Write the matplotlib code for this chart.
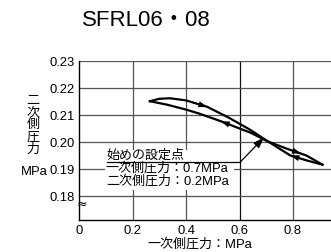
import numpy as np
import matplotlib
matplotlib.use("Agg")
import matplotlib.pyplot as plt
from matplotlib.patches import Rectangle

plt.rcParams['font.family'] = ['Liberation Sans', 'Noto Sans CJK JP', 'DejaVu Sans']

title = "SFRL06・08"
x_label = "一次側圧力：MPa"
y_label = "二\n次\n側\n圧\n力"
y_unit = "MPa"
x_ticks = [0, 0.2, 0.4, 0.6, 0.8]
x_tick_labels = ["0", "0.2", "0.4", "0.6", "0.8"]
y_ticks = [0.18, 0.19, 0.20, 0.21, 0.22, 0.23]
y_tick_labels = ["0.18", "0.19", "0.20", "0.21", "0.22", "0.23"]

# increasing primary pressure branch
up_x = [0.265, 0.30, 0.34, 0.40, 0.48, 0.56, 0.64, 0.708, 0.78, 0.85, 0.91]
up_y = [0.2151, 0.2160, 0.2162, 0.2154, 0.2130, 0.2090, 0.2045, 0.2001, 0.1974, 0.1950, 0.1916]
# decreasing primary pressure branch
dn_x = [0.91, 0.85, 0.79, 0.708, 0.64, 0.60, 0.53, 0.45, 0.40, 0.33, 0.265]
dn_y = [0.1916, 0.1932, 0.1950, 0.2001, 0.2035, 0.2050, 0.2077, 0.2105, 0.2120, 0.2138, 0.2151]

up_arrows = [0.48, 0.83]
dn_arrows = [0.53, 0.79]

set_point = (0.70, 0.20)
note_lines = ["始めの設定点", "一次側圧力：0.7MPa", "二次側圧力：0.2MPa"]

W, H = 331, 253
fig = plt.figure(figsize=(W / 100, H / 100), dpi=100)
ax = fig.add_axes([79 / W, 1 - 221 / H, 1 - 79 / W, (221 - 62) / H])
ax.set_xlim(0, 0.942)
ax.set_ylim(0.1711, 0.23)

for xt in x_ticks[1:]:
    ax.axvline(xt, color='#111111' if abs(xt - 0.6) < 1e-9 else '#555555', lw=0.9, zorder=1)
for yt in y_ticks:
    ax.axhline(yt, color='#555555', lw=0.9, zorder=1)

ax.spines['right'].set_visible(False)
ax.spines['top'].set_visible(False)
ax.spines['left'].set_linewidth(1.0)
ax.spines['bottom'].set_linewidth(1.0)

ax.set_xticks(x_ticks)
ax.set_xticklabels(x_tick_labels, fontsize=9.4)
ax.set_yticks(y_ticks)
ax.set_yticklabels(y_tick_labels, fontsize=9.4)
ax.tick_params(length=0, pad=3)

ax.plot(up_x, up_y, color='black', lw=1.6, zorder=3, solid_joinstyle='round')
ax.plot(dn_x, dn_y, color='black', lw=1.6, zorder=3, solid_joinstyle='round')

def add_arrows(xs, ys, positions, direction):
    order = np.argsort(xs)
    xa = np.array(xs)[order]
    ya = np.array(ys)[order]
    for p in positions:
        d = 0.03 * direction
        x0, x1 = p - d, p
        y0, y1 = np.interp(x0, xa, ya), np.interp(x1, xa, ya)
        ax.annotate('', xy=(x1, y1), xytext=(x0, y0),
                    arrowprops=dict(arrowstyle='-|>,head_length=0.65,head_width=0.22',
                                    color='black', lw=0,
                                    mutation_scale=10, shrinkA=0, shrinkB=0),
                    zorder=4)

add_arrows(up_x, up_y, up_arrows, +1)
add_arrows(dn_x, dn_y, dn_arrows, -1)

# annotation block (white background hides grid)
ax.add_patch(Rectangle((0.097, 0.1822), 0.483, 0.0148, facecolor='white',
                       edgecolor='none', zorder=2))
ax.text(0.104, 0.1953, note_lines[0], fontsize=9.4, va='center', ha='left', zorder=5)
ax.text(0.100, 0.1906, note_lines[1], fontsize=9.4, va='center', ha='left', zorder=5)
ax.text(0.100, 0.1859, note_lines[2], fontsize=9.4, va='center', ha='left', zorder=5)
ax.plot([0.105, 0.602], [0.1925, 0.1925], color='black', lw=0.9, zorder=5)
ax.annotate('', xy=(set_point[0] - 0.008, set_point[1] + 0.0017), xytext=(0.602, 0.1925),
            arrowprops=dict(arrowstyle='-|>,head_length=0.65,head_width=0.22',
                            color='black', lw=0.9,
                            mutation_scale=10, shrinkA=0, shrinkB=0), zorder=5)

# axis break mark
ax.text(0.012, 0.1772, "≈", fontsize=9, ha='center', va='center', zorder=6,
        family='DejaVu Sans')

fig.text(146 / W, 1 - 20 / H, title, fontsize=16, ha='center', va='center')
fig.text(200 / W, 1 - 244 / H, x_label, fontsize=9.4, ha='center', va='center')
fig.text(33 / W, 1 - 125.5 / H, y_label, fontsize=9.4, ha='center', va='center', linespacing=1.02)
fig.text(34 / W, 1 - 172.5 / H, y_unit, fontsize=9.4, ha='center', va='center')

fig.savefig("out.png", dpi=100)
